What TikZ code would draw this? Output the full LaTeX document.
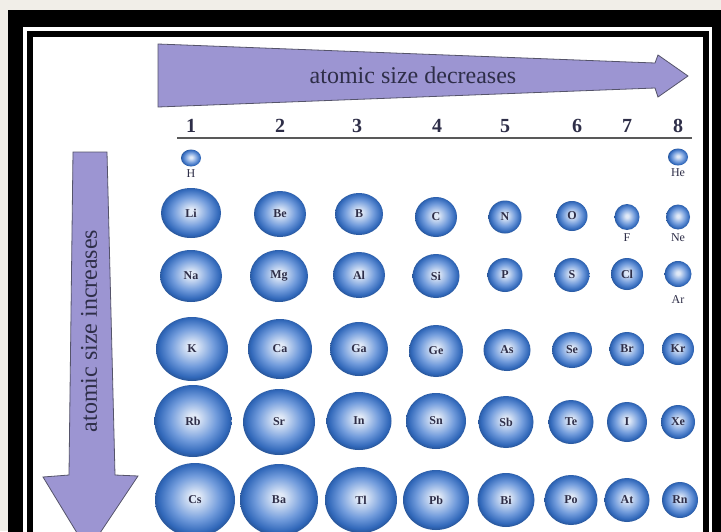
\documentclass[tikz,border=0pt]{standalone}
\usepackage{fontspec}
\setmainfont{Liberation Serif}
\usetikzlibrary{positioning,arrows.meta,shapes.geometric}

\definecolor{paper}{HTML}{F1EEE8}
\definecolor{arrowfill}{HTML}{9C95D2}
\definecolor{arrowedge}{HTML}{55546A}
\definecolor{ballcore}{HTML}{E0E9F7}
\definecolor{ballmid}{HTML}{729CDC}
\definecolor{ballrim}{HTML}{3168BA}
\definecolor{inkdark}{HTML}{2E2E48}
\pgfdeclareradialshading{atomball}{\pgfpoint{0bp}{2bp}}{color(0bp)=(ballcore); color(3bp)=(ballcore); color(15bp)=(ballmid); color(23bp)=(ballrim); color(26bp)=(ballrim!80!black); color(50bp)=(ballrim!80!black)}

\tikzset{
  atom/.style={ellipse,inner sep=0pt,shade,shading=atomball,font=\fontsize{12}{12}\selectfont\bfseries,text=inkdark},
  sym/.style={font=\fontsize{12}{12}\selectfont,text=inkdark,inner sep=1pt},
  grp/.style={font=\fontsize{20}{20}\selectfont\bfseries,text=inkdark},
  trend/.style={fill=arrowfill,draw=arrowedge,line width=0.8pt,line join=miter},
  trendtext/.style={font=\fontsize{24}{24}\selectfont,text=inkdark}
}

\begin{document}
\begin{tikzpicture}[x=1pt,y=-1pt]
\clip (0,0) rectangle (721,531);
\fill[paper] (0,0) rectangle (721,531);
\fill[black] (8,10) rectangle (730,540);
\fill[white] (23,27) rectangle (712,540);
\fill[black] (27,31) rectangle (709,540);
\fill[white] (33,37) rectangle (703,540);

\draw[trend] (158,44) -- (655,63) -- (658,55) -- (688,76) -- (658,97) -- (655,88) -- (158,107) -- cycle;
\node[trendtext] (dec) at (413,75) {atomic size decreases};
\draw[trend] (73,152) -- (107,152) -- (115,475) -- (138,476) -- (88,551) -- (43,477) -- (69,475) -- cycle;
\node[trendtext,rotate=90] (inc) at (89,331) {atomic size increases};

\draw[line width=1.6pt,gray!70!black] (177,138) -- (692,138);
\foreach \g/\x in {1/191,2/280,3/357,4/437,5/505,6/577,7/627,8/678}
  \node[grp] (g\g) at (\x,126) {\g};

\foreach \el/\x/\y/\rx/\ry/\gap in {H/191/158/10/8.5/2, He/678/157/10/8.5/2, F/627/217/12.5/13/2, Ne/678/217/12/12.5/3, Ar/678/274/13.5/13/7}{
  \node[atom,minimum width={2*\rx*1pt},minimum height={2*\ry*1pt}] (\el) at (\x,\y) {};
  \node[sym,below=\gap pt of \el] (\el-lab) {\el};
}

\foreach \el/\x/\y/\rx/\ry in {
  Li/191/213/30/25, Be/280/214/26/23, B/359/214/24/21, C/436/217/21/20, N/505/217/16.5/16.5, O/572/216/15.5/15,
  Na/191/276/31/26, Mg/279/276/29/26, Al/359/275/26/23, Si/436/276/23.5/22, P/505/275/17.5/17, S/572/275/17.5/17, Cl/627/274/16/16,
  K/192/349/36/32, Ca/280/349/32/30, Ga/359/349/29/27, Ge/436/351/27/26, As/507/350/23.5/21, Se/572/350/20/18, Br/627/349/17.5/17, Kr/678/349/16/16,
  Rb/193/421/38.5/36, Sr/279/422/36/33, In/359/421/32.5/29, Sn/436/421/30/28, Sb/506/422/27.5/26, Te/571/422/22.5/22, I/627/422/20/20, Xe/678/422/17/17,
  Cs/195/500/40/37, Ba/279/500/39/36, Tl/361/500/36/33, Pb/436/500/33/30, Bi/506/500/28.5/27, Po/571/500/26.5/25, At/627/500/22.5/22, Rn/680/500/18/18}
  \node[atom,minimum width={2*\rx*1pt},minimum height={2*\ry*1pt}] (\el) at (\x,\y) {\el};
\end{tikzpicture}
\end{document}
